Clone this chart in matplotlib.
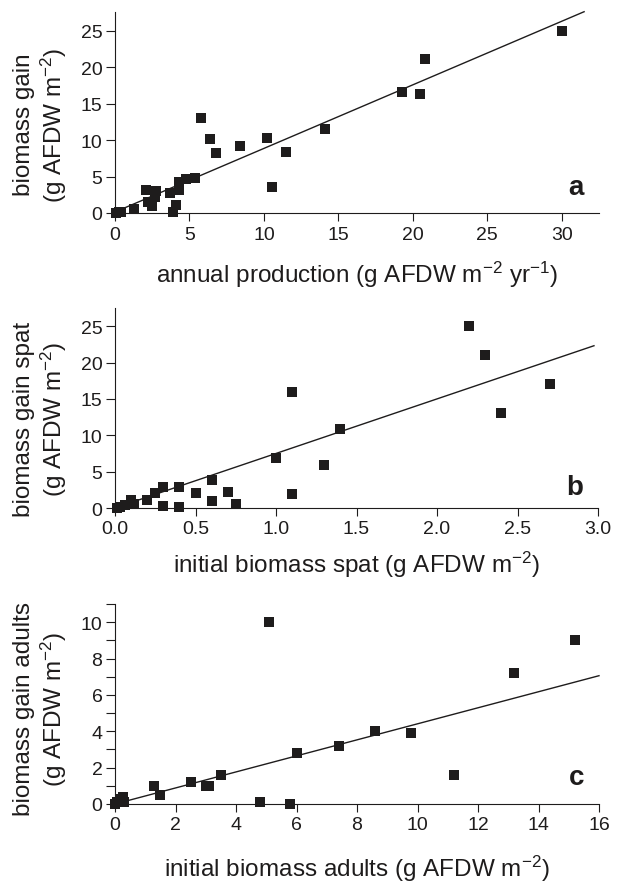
import matplotlib
matplotlib.use("Agg")
import matplotlib.pyplot as plt
import numpy as np

plt.rcParams['font.family'] = ['Liberation Sans', 'DejaVu Sans']
plt.rcParams['mathtext.fontset'] = 'custom'
plt.rcParams['mathtext.rm'] = 'Liberation Sans'
plt.rcParams['mathtext.it'] = 'Liberation Sans:italic'
plt.rcParams['mathtext.bf'] = 'Liberation Sans:bold'

# ---- Panel a data ----
a_x = [0.1, 0.3, 0.4, 1.3, 2.1, 2.2, 2.5, 2.7, 2.75, 3.7, 3.9, 4.1, 4.3, 4.3,
       4.8, 5.4, 5.75, 6.4, 6.75, 8.4, 10.2, 10.55, 11.5, 14.1, 19.3, 20.5, 20.8, 30.0]
a_y = [0.0, 0.2, 0.1, 0.6, 3.2, 1.5, 1.0, 2.2, 3.0, 2.7, 0.1, 1.15, 3.1, 4.3,
       4.7, 4.8, 13.1, 10.1, 8.3, 9.2, 10.3, 3.6, 8.4, 11.6, 16.6, 16.4, 21.1, 25.0]
a_fit = (0.873, 0.14)          # slope, intercept
a_fit_range = (0.0, 31.5)

# ---- Panel b data ----
b_x = [0.01, 0.03, 0.06, 0.1, 0.12, 0.2, 0.25, 0.3, 0.3, 0.4, 0.4, 0.5, 0.6, 0.6,
       0.7, 0.75, 1.0, 1.1, 1.1, 1.3, 1.4, 2.2, 2.3, 2.4, 2.7]
b_y = [0.0, 0.1, 0.4, 1.05, 0.5, 1.1, 2.1, 2.9, 0.3, 2.9, 0.1, 2.1, 3.9, 1.0,
       2.2, 0.6, 6.9, 16.0, 1.9, 5.9, 10.9, 25.0, 21.0, 13.0, 17.0]
b_fit = (7.5, 0.0)
b_fit_range = (0.0, 2.975)

# ---- Panel c data ----
c_x = [0.0, 0.05, 0.2, 0.25, 0.3, 1.3, 1.5, 2.5, 3.0, 3.1, 3.5, 4.8, 5.1, 5.8,
       6.0, 7.4, 8.6, 9.8, 11.2, 13.2, 15.2]
c_y = [0.0, 0.1, 0.3, 0.4, 0.1, 1.0, 0.5, 1.2, 1.0, 1.0, 1.6, 0.1, 10.0, 0.0,
       2.8, 3.2, 4.0, 3.9, 1.6, 7.2, 9.0]
c_fit = (0.441, 0.0)
c_fit_range = (0.0, 16.0)

a_xticks = [0, 5, 10, 15, 20, 25, 30]
a_yticks = [0, 5, 10, 15, 20, 25]
b_xticks = [0.0, 0.5, 1.0, 1.5, 2.0, 2.5, 3.0]
b_xticklabels = ["0.0", "0.5", "1.0", "1.5", "2.0", "2.5", "3.0"]
b_yticks = [0, 5, 10, 15, 20, 25]
c_xticks = [0, 2, 4, 6, 8, 10, 12, 14, 16]
c_yticks = [0, 2, 4, 6, 8, 10]
c_yminor = [1, 3, 5, 7, 9, 11]

a_xlabel = r"annual production (g AFDW m$^{-2}$ yr$^{-1}$)"
a_ylabel = "biomass gain\n" + r"(g AFDW m$^{-2}$)"
b_xlabel = r"initial biomass spat (g AFDW m$^{-2}$)"
b_ylabel = "biomass gain spat\n" + r"(g AFDW m$^{-2}$)"
c_xlabel = r"initial biomass adults (g AFDW m$^{-2}$)"
c_ylabel = "biomass gain adults\n" + r"(g AFDW m$^{-2}$)"

INK = '#1e1c1c'
W, H = 640, 887
fig = plt.figure(figsize=(W / 100, H / 100), dpi=100)


def px_axes(left, right, top, bottom):
    return fig.add_axes([left / W, 1 - bottom / H, (right - left) / W, (bottom - top) / H])


def style(ax, xlim, ylim, xticks, yticks, xlabel, ylabel, letter,
          xlab_base_px, ylab_center_px, ax_top, ax_bot, letter_base_px,
          xticklabels=None, yminor=None):
    ax.set_xlim(*xlim)
    ax.set_ylim(*ylim)
    for s in ['top', 'right']:
        ax.spines[s].set_visible(False)
    for s in ['left', 'bottom']:
        ax.spines[s].set_linewidth(0.8)
        ax.spines[s].set_color(INK)
    ax.set_xticks(xticks)
    if xticklabels is not None:
        ax.set_xticklabels(xticklabels)
    ax.set_yticks(yticks)
    if yminor is not None:
        ax.set_yticks(yminor, minor=True)
        ax.tick_params(axis='y', which='minor', length=6.5, width=0.8, color=INK)
    ax.tick_params(axis='x', which='major', length=6, width=0.8, color=INK,
                   labelsize=14, pad=3, labelcolor=INK)
    ax.tick_params(axis='y', which='major', length=6.5, width=0.8, color=INK,
                   labelsize=14, pad=2.5, labelcolor=INK)
    h = ax_bot - ax_top
    ax.set_xlabel(xlabel, fontsize=17.5, color=INK, va='baseline')
    ax.xaxis.set_label_coords(0.5, (ax_bot - xlab_base_px) / h)
    ax.set_ylabel(ylabel, fontsize=17.5, color=INK, va='center', linespacing=1.15)
    ax.yaxis.set_label_coords((41 - 115) / 484, (ax_bot - ylab_center_px) / h)
    ax.text((584 - 115) / 484, (ax_bot - letter_base_px) / h, letter,
            transform=ax.transAxes, ha='right', va='baseline',
            fontsize=20, fontweight='bold', color=INK)


def draw(ax, x, y, fit, fit_range):
    ax.plot(x, y, linestyle='none', marker='s', markersize=7.2,
            color=INK, markeredgewidth=0, clip_on=False, zorder=3)
    xs = np.array(fit_range)
    ax.plot(xs, fit[0] * xs + fit[1], color=INK, linewidth=1.0, clip_on=False, zorder=2)


# Panel a
ax_a = px_axes(115, 599, 13, 214)
draw(ax_a, a_x, a_y, a_fit, a_fit_range)
style(ax_a, (0, 32.5), (0, 27.6), a_xticks, a_yticks, a_xlabel, a_ylabel, 'a',
      283, 125, 13, 214, 195)

# Panel b
ax_b = px_axes(115, 598, 309, 509)
draw(ax_b, b_x, b_y, b_fit, b_fit_range)
style(ax_b, (0, 3.0), (0, 27.5), b_xticks, b_yticks, b_xlabel, b_ylabel, 'b',
      573, 419, 309, 509, 495, xticklabels=b_xticklabels)

# Panel c
ax_c = px_axes(115, 599, 605, 805)
draw(ax_c, c_x, c_y, c_fit, c_fit_range)
style(ax_c, (0, 16), (0, 11), c_xticks, c_yticks, c_xlabel, c_ylabel, 'c',
      877, 709, 605, 805, 785, yminor=c_yminor)

fig.savefig('out.png', dpi=100)
